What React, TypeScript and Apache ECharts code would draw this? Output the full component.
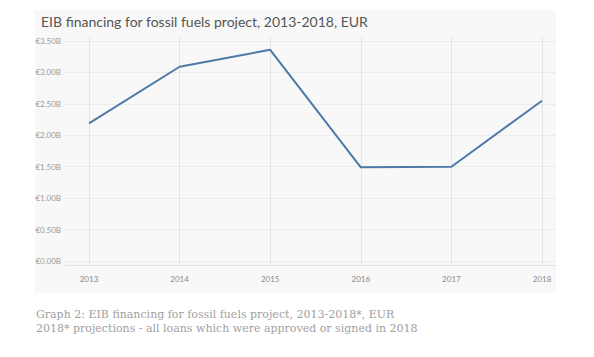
import React, { useEffect, useRef } from "react";
import * as echarts from "echarts";

const years = ["2013", "2014", "2015", "2016", "2017", "2018"];
const financing = [2.19, 3.09, 3.36, 1.49, 1.5, 2.55];
const yTicks = [0, 0.5, 1, 1.5, 2, 2.5, 3, 3.5];

const title = "EIB financing for fossil fuels project, 2013-2018, EUR";
const caption1 = "Graph 2: EIB financing for fossil fuels project, 2013-2018*, EUR";
const caption2 = "2018* projections - all loans which were approved or signed in 2018";

export default function App() {
  const ref = useRef<HTMLDivElement>(null);
  useEffect(() => {
    const chart = echarts.init(ref.current!, undefined, { renderer: "svg" });
    const option = {
      animation: false,
      graphic: [
        { type: "rect", z: -10, shape: { x: 35, y: 10, width: 521, height: 283 }, style: { fill: "#f8f8f8" }, silent: true },
        { type: "line", z: 1, shape: { x1: 65, y1: 265.5, x2: 556, y2: 265.5 }, style: { stroke: "#e2e2e2", lineWidth: 1 } },
        { type: "text", x: 41, y: 14, style: { text: title, font: "14px Lato", fill: "#555555" } },
        { type: "text", x: 36, y: 309, style: { text: caption1, font: "11px 'DejaVu Serif'", fill: "#a0a0a0" } },
        { type: "text", x: 36, y: 323, style: { text: caption2, font: "11px 'DejaVu Serif'", fill: "#a0a0a0" } },
      ],
      grid: [
        { left: 65, right: 38, top: 41, height: 220 },
        { left: 89, right: 52, top: 37, height: 229 },
      ],
      xAxis: [
        { gridIndex: 0, type: "category", data: years, show: false },
        {
          gridIndex: 1,
          type: "category",
          data: years,
          boundaryGap: false,
          axisLine: { show: false },
          axisTick: { show: false },
          axisLabel: { color: "#8a8a8a", fontSize: 8, fontFamily: "Lato", margin: 9 },
          splitLine: { show: true, lineStyle: { color: "#e4e4e4", width: 1 } },
        },
      ],
      yAxis: [
        {
          gridIndex: 0,
          type: "value",
          min: 0,
          max: 3.5,
          interval: 0.5,
          axisLine: { show: false },
          axisTick: { show: false },
          axisLabel: {
            color: "#9a9a9a",
            fontSize: 8,
            fontFamily: "Lato",
            margin: 4,
            formatter: (v: number) => (yTicks.includes(v) ? "€" + v.toFixed(2) + "B" : ""),
          },
          splitLine: { show: true, lineStyle: { color: "#ececec", width: 1 } },
        },
        { gridIndex: 1, type: "value", min: -0.0795, max: 3.5636, show: false },
      ],
      series: [
        {
          type: "line",
          xAxisIndex: 1,
          yAxisIndex: 1,
          data: financing,
          symbol: "none",
          lineStyle: { color: "#4e79a7", width: 2 },
          z: 5,
        },
      ],
    };
    chart.setOption(option);
    return () => chart.dispose();
  }, []);
  return (
    <div
      ref={ref}
      style={{ position: "fixed", left: 0, top: 0, width: 594, height: 357, background: "#ffffff" }}
    />
  );
}
